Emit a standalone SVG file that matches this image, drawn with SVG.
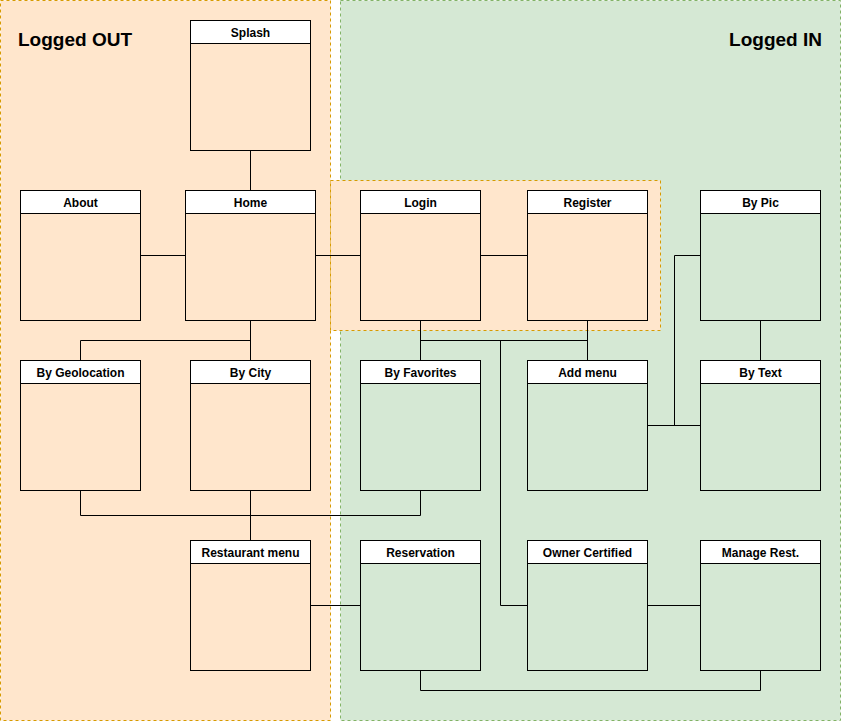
<svg xmlns="http://www.w3.org/2000/svg" width="851" height="721" viewBox="0 0 851 721">
<style>
.out{fill:#ffe6cc;stroke:#d79b00;stroke-dasharray:3 3}
.in{fill:#d5e8d4;stroke:#82b366;stroke-dasharray:3 3}
.body{fill:none;stroke:#000;stroke-width:1}
.hdr{fill:#fff;stroke:#000;stroke-width:1}
.t{font-family:"Liberation Sans",Arial,sans-serif;font-size:12px;font-weight:bold;fill:#000;text-anchor:middle}
.big{font-family:"Liberation Sans",Arial,sans-serif;font-size:19px;font-weight:bold;fill:#000}
.c{fill:none;stroke:#000;stroke-width:1}
</style>
<rect width="851" height="721" fill="#fff"/>
<g id="logged-out"><rect class="out" x="0.5" y="0.5" width="330" height="720"/><text class="big" x="18" y="46">Logged OUT</text></g>
<g id="logged-in"><rect class="in" x="340.5" y="0.5" width="500" height="720"/><text class="big" x="822" y="46" text-anchor="end">Logged IN</text></g>
<g id="auth-group"><rect class="out" x="330.5" y="180.5" width="330" height="150"/></g>
<g id="connectors">
<path class="c" d="M250.5 150.5V190.5"/>
<path class="c" d="M140.5 255.5H185.5"/>
<path class="c" d="M315.5 255.5H360.5"/>
<path class="c" d="M480.5 255.5H527.5"/>
<path class="c" d="M250.5 320.5V360.5M250.5 340.5H80.5V360.5"/>
<path class="c" d="M420.5 320.5V360.5M420.5 340.5H587.5M587.5 320.5V360.5"/>
<path class="c" d="M500.5 340.5V605.5H527.5"/>
<path class="c" d="M647.5 425.5H700.5"/>
<path class="c" d="M674.5 425.5V255.5H700.5"/>
<path class="c" d="M760.5 320.5V360.5"/>
<path class="c" d="M80.5 490.5V515.5H420.5V490.5"/>
<path class="c" d="M250.5 490.5V540.5"/>
<path class="c" d="M310.5 605.5H360.5"/>
<path class="c" d="M647.5 605.5H700.5"/>
<path class="c" d="M420.5 670.5V690.5H760.5V670.5"/>
</g>
<g id="splash"><rect class="body" x="190.5" y="20.5" width="120" height="130"/><rect class="hdr" x="190.5" y="20.5" width="120" height="23"/><text class="t" x="250.5" y="37">Splash</text></g>
<g id="about"><rect class="body" x="20.5" y="190.5" width="120" height="130"/><rect class="hdr" x="20.5" y="190.5" width="120" height="23"/><text class="t" x="80.5" y="207">About</text></g>
<g id="home"><rect class="body" x="185.5" y="190.5" width="130" height="130"/><rect class="hdr" x="185.5" y="190.5" width="130" height="23"/><text class="t" x="250.5" y="207">Home</text></g>
<g id="login"><rect class="body" x="360.5" y="190.5" width="120" height="130"/><rect class="hdr" x="360.5" y="190.5" width="120" height="23"/><text class="t" x="420.5" y="207">Login</text></g>
<g id="register"><rect class="body" x="527.5" y="190.5" width="120" height="130"/><rect class="hdr" x="527.5" y="190.5" width="120" height="23"/><text class="t" x="587.5" y="207">Register</text></g>
<g id="by-pic"><rect class="body" x="700.5" y="190.5" width="120" height="130"/><rect class="hdr" x="700.5" y="190.5" width="120" height="23"/><text class="t" x="760.5" y="207">By Pic</text></g>
<g id="by-geolocation"><rect class="body" x="20.5" y="360.5" width="120" height="130"/><rect class="hdr" x="20.5" y="360.5" width="120" height="23"/><text class="t" x="80.5" y="377">By Geolocation</text></g>
<g id="by-city"><rect class="body" x="190.5" y="360.5" width="120" height="130"/><rect class="hdr" x="190.5" y="360.5" width="120" height="23"/><text class="t" x="250.5" y="377">By City</text></g>
<g id="by-favorites"><rect class="body" x="360.5" y="360.5" width="120" height="130"/><rect class="hdr" x="360.5" y="360.5" width="120" height="23"/><text class="t" x="420.5" y="377">By Favorites</text></g>
<g id="add-menu"><rect class="body" x="527.5" y="360.5" width="120" height="130"/><rect class="hdr" x="527.5" y="360.5" width="120" height="23"/><text class="t" x="587.5" y="377">Add menu</text></g>
<g id="by-text"><rect class="body" x="700.5" y="360.5" width="120" height="130"/><rect class="hdr" x="700.5" y="360.5" width="120" height="23"/><text class="t" x="760.5" y="377">By Text</text></g>
<g id="restaurant-menu"><rect class="body" x="190.5" y="540.5" width="120" height="130"/><rect class="hdr" x="190.5" y="540.5" width="120" height="23"/><text class="t" x="250.5" y="557">Restaurant menu</text></g>
<g id="reservation"><rect class="body" x="360.5" y="540.5" width="120" height="130"/><rect class="hdr" x="360.5" y="540.5" width="120" height="23"/><text class="t" x="420.5" y="557">Reservation</text></g>
<g id="owner-certified"><rect class="body" x="527.5" y="540.5" width="120" height="130"/><rect class="hdr" x="527.5" y="540.5" width="120" height="23"/><text class="t" x="587.5" y="557">Owner Certified</text></g>
<g id="manage-rest"><rect class="body" x="700.5" y="540.5" width="120" height="130"/><rect class="hdr" x="700.5" y="540.5" width="120" height="23"/><text class="t" x="760.5" y="557">Manage Rest.</text></g>
</svg>
